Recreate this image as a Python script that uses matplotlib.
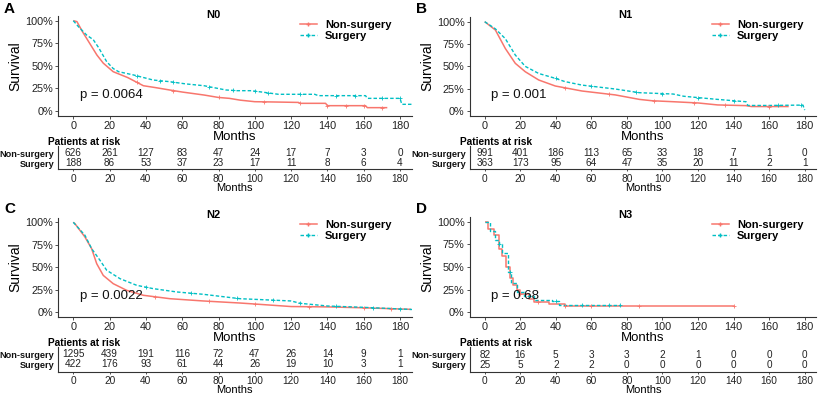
import numpy as np
import matplotlib
matplotlib.use("Agg")
import matplotlib.pyplot as plt
from matplotlib.lines import Line2D

plt.rcParams['font.family'] = ['Liberation Sans', 'DejaVu Sans']

W, H = 824, 396
RED = "#F8766D"
TEAL = "#00BFC4"

groups = ["Non-surgery", "Surgery"]
panel_titles = ["N0", "N1", "N2", "N3"]
panel_letters = ["A", "B", "C", "D"]
p_values = ["p = 0.0064", "p = 0.001", "p = 0.0022", "p = 0.68"]
risk_times = [0, 20, 40, 60, 80, 100, 120, 140, 160, 180]

# --- KM curves (time in months, survival proportion) ---
n0_non_t = [0, 2, 5, 9, 13, 16.5, 22, 30, 38.6, 45, 53, 60, 72, 80, 86, 92, 100, 110, 124, 125, 139, 140, 161, 162, 173]
n0_non_s = [1.0, 0.99, 0.88, 0.75, 0.62, 0.53, 0.435, 0.37, 0.28, 0.26, 0.233, 0.21, 0.177, 0.15, 0.14, 0.12, 0.103, 0.10, 0.095, 0.085, 0.085, 0.059, 0.059, 0.037, 0.037]
n0_sur_t = [0, 3, 7.4, 11, 14, 18.4, 22, 25, 33, 44, 53, 62, 72, 84, 90, 98, 105, 113, 133, 135, 161, 162, 180, 181, 188]
n0_sur_s = [1.0, 0.93, 0.84, 0.79, 0.70, 0.546, 0.47, 0.435, 0.40, 0.343, 0.325, 0.30, 0.28, 0.233, 0.225, 0.225, 0.207, 0.185, 0.185, 0.17, 0.17, 0.14, 0.14, 0.074, 0.074]

n1_non_t = [0, 1.3, 6, 11.6, 17.2, 22.8, 30.4, 39.7, 54.7, 73.5, 87, 94, 106, 120, 131, 147, 150, 171]
n1_non_s = [1.0, 0.98, 0.907, 0.70, 0.534, 0.44, 0.347, 0.28, 0.224, 0.18, 0.13, 0.115, 0.104, 0.09, 0.068, 0.06, 0.05, 0.05]
n1_sur_t = [0, 6, 11.6, 17.2, 22.8, 30.4, 39.7, 45, 54.7, 73.5, 87, 106, 112, 120, 131, 140, 147, 148, 160, 178, 179, 180]
n1_sur_s = [1.0, 0.92, 0.81, 0.627, 0.50, 0.42, 0.366, 0.33, 0.29, 0.246, 0.205, 0.19, 0.165, 0.15, 0.13, 0.115, 0.104, 0.062, 0.062, 0.066, 0.066, 0.01]

n2_non_t = [0, 0.9, 6.4, 10.1, 12.9, 16.5, 22, 29.4, 38.6, 53.3, 71.6, 91.9, 100, 120, 140, 160, 180, 186]
n2_non_s = [1.0, 0.985, 0.837, 0.707, 0.54, 0.41, 0.318, 0.244, 0.189, 0.151, 0.126, 0.103, 0.092, 0.064, 0.06, 0.05, 0.037, 0.033]
n2_sur_t = [0, 6.4, 10.1, 14.7, 18.4, 25.7, 34.9, 44, 57, 71.6, 91.9, 100, 120, 125, 140, 160, 180, 188]
n2_sur_s = [1.0, 0.856, 0.707, 0.578, 0.467, 0.374, 0.30, 0.263, 0.226, 0.20, 0.151, 0.144, 0.126, 0.10, 0.07, 0.055, 0.037, 0.03]

n3_non_t = [0, 2, 5, 8, 10, 12, 14, 16, 18, 20, 25, 28, 35, 36, 45, 140]
n3_non_s = [1.0, 0.92, 0.85, 0.70, 0.62, 0.50, 0.38, 0.30, 0.25, 0.20, 0.15, 0.11, 0.11, 0.09, 0.07, 0.07]
n3_sur_t = [0, 3, 6, 8, 10, 13, 15, 18, 22, 28, 38, 42, 76]
n3_sur_s = [1.0, 0.90, 0.80, 0.75, 0.65, 0.45, 0.32, 0.22, 0.18, 0.14, 0.12, 0.08, 0.08]

# censor times
n0_non_c = [35, 55, 80, 105, 125, 140, 150, 160, 170]
n0_sur_c = [35, 48, 55, 75, 88, 100, 107, 125, 145, 155, 170, 180]
n1_non_c = [45, 70, 95, 118, 135, 160]
n1_sur_c = [40, 60, 85, 100, 120, 140, 165, 178]
n2_non_c = [45, 75, 100, 130, 160, 175]
n2_sur_c = [40, 65, 90, 110, 125, 145, 165, 180]
n3_non_c = [20, 30, 45, 60, 87, 140]
n3_sur_c = [8, 14, 25, 40, 55, 70, 76]

# risk tables
n0_non_risk = [626, 261, 127, 83, 47, 24, 17, 7, 3, 0]
n0_sur_risk = [188, 86, 53, 37, 23, 17, 11, 8, 6, 4]
n1_non_risk = [991, 401, 186, 113, 65, 33, 18, 7, 1, 0]
n1_sur_risk = [363, 173, 95, 64, 47, 35, 20, 11, 2, 1]
n2_non_risk = [1295, 439, 191, 116, 72, 47, 26, 14, 9, 1]
n2_sur_risk = [422, 176, 93, 61, 44, 26, 19, 10, 3, 1]
n3_non_risk = [82, 16, 5, 3, 3, 2, 1, 0, 0, 0]
n3_sur_risk = [25, 5, 2, 2, 0, 0, 0, 0, 0, 0]

curves = [
    ((n0_non_t, n0_non_s, n0_non_c), (n0_sur_t, n0_sur_s, n0_sur_c)),
    ((n1_non_t, n1_non_s, n1_non_c), (n1_sur_t, n1_sur_s, n1_sur_c)),
    ((n2_non_t, n2_non_s, n2_non_c), (n2_sur_t, n2_sur_s, n2_sur_c)),
    ((n3_non_t, n3_non_s, n3_non_c), (n3_sur_t, n3_sur_s, n3_sur_c)),
]
risks = [(n0_non_risk, n0_sur_risk), (n1_non_risk, n1_sur_risk),
         (n2_non_risk, n2_sur_risk), (n3_non_risk, n3_sur_risk)]
stepped = [False, False, False, True]

fig = plt.figure(figsize=(W / 100, H / 100), dpi=100)
fig.patch.set_facecolor("white")


def add_ax(l, t, r, b):
    return fig.add_axes([l / W, 1 - b / H, (r - l) / W, (b - t) / H])


def curve_val(t, s, x, step):
    t = np.asarray(t, float)
    s = np.asarray(s, float)
    x = np.asarray(x, float)
    if step:
        idx = np.clip(np.searchsorted(t, x, side="right") - 1, 0, len(s) - 1)
        return s[idx]
    return np.interp(x, t, s)


XL = (-8.5, 186.5)
YL = (-0.055, 1.05)
SPINE = "#333333"

layouts = [
    dict(x0=73.3, x180=400.0, y100=20.7, y0=111.0, tt=146, tb=169.5, r1=153.3, r2=163.3, ox=0, oy=0),
    dict(x0=484.7, x180=804.7, y100=21.7, y0=111.0, tt=146, tb=169.5, r1=153.3, r2=163.3, ox=412, oy=0),
    dict(x0=73.3, x180=400.0, y100=222.3, y0=312.3, tt=347, tb=371.7, r1=354.0, r2=364.3, ox=0, oy=200),
    dict(x0=484.7, x180=804.7, y100=221.7, y0=312.3, tt=347, tb=371.7, r1=355.0, r2=365.0, ox=412, oy=200),
]

for i, L in enumerate(layouts):
    k = (L["x180"] - L["x0"]) / 180.0
    left = L["x0"] + XL[0] * k
    right = L["x0"] + XL[1] * k
    s = L["y0"] - L["y100"]
    top = L["y0"] - YL[1] * s
    bottom = L["y0"] - YL[0] * s
    ax = add_ax(left, top, right, bottom)
    ax.set_xlim(*XL)
    ax.set_ylim(*YL)
    for sp in ["top", "right"]:
        ax.spines[sp].set_visible(False)
    for sp in ["left", "bottom"]:
        ax.spines[sp].set_color(SPINE)
        ax.spines[sp].set_linewidth(0.8)
    ax.set_xticks(risk_times)
    ax.set_yticks([0, 0.25, 0.5, 0.75, 1.0])
    ax.set_yticklabels(["0%", "25%", "50%", "75%", "100%"])
    ax.tick_params(labelsize=7.8, length=2, width=0.6, colors=SPINE, labelcolor="#222222", pad=1.5)
    ax.set_xlabel("Months", fontsize=9.5, labelpad=0)
    ax.set_ylabel("Survival", fontsize=10, labelpad=2)

    (nt, ns, nc), (st, ss, sc) = curves[i]
    ds = "steps-post" if stepped[i] else "default"
    ax.plot(nt, ns, drawstyle=ds, color=RED, lw=1.1, solid_capstyle="butt")
    ax.plot(st, ss, drawstyle=ds, color=TEAL, lw=1.0, ls=(0, (2.5, 1.5)))
    ax.plot(nc, curve_val(nt, ns, nc, stepped[i]), ls="none", marker="+", ms=3, mew=0.6, color=RED)
    ax.plot(sc, curve_val(st, ss, sc, stepped[i]), ls="none", marker="+", ms=3, mew=0.6, color=TEAL)

    ax.text(3.5, 0.18, p_values[i], fontsize=9.5, ha="left", va="center", color="#111111")

    handles = [Line2D([], [], color=RED, lw=1.1, marker="+", ms=3.5),
               Line2D([], [], color=TEAL, lw=1.0, ls=(0, (2.5, 1.5)), marker="+", ms=3.5)]
    fig.legend(handles, groups, loc="upper left",
               bbox_to_anchor=((L["ox"] + 294) / W, 1 - (L["oy"] + 14) / H),
               frameon=False, prop=dict(size=8, weight="bold"),
               handlelength=1.6, handletextpad=0.7, labelspacing=0.1, borderpad=0)

    fig.text((L["ox"] + 213) / W, 1 - (L["oy"] + 15) / H, panel_titles[i],
             fontsize=8, fontweight="bold", ha="center", va="center")
    fig.text((L["ox"] + 4) / W, 1 - (L["oy"] + 9) / H, panel_letters[i],
             fontsize=11, fontweight="bold", ha="left", va="center")

    # risk table
    tax = add_ax(left, L["tt"], right, L["tb"])
    tax.set_xlim(*XL)
    tax.set_ylim(0, 1)
    for sp in ["top", "right"]:
        tax.spines[sp].set_visible(False)
    for sp in ["left", "bottom"]:
        tax.spines[sp].set_color(SPINE)
        tax.spines[sp].set_linewidth(0.8)
    hgt = L["tb"] - L["tt"]
    y1 = 1 - (L["r1"] - L["tt"]) / hgt
    y2 = 1 - (L["r2"] - L["tt"]) / hgt
    tax.set_yticks([y1, y2])
    tax.set_yticklabels(groups, fontweight="bold", fontsize=6.6)
    tax.set_xticks(risk_times)
    tax.tick_params(axis="x", labelsize=7.3, length=1.5, width=0.6, colors=SPINE, labelcolor="#222222", pad=1.5)
    tax.tick_params(axis="y", length=0, pad=2.5, labelcolor="#111111")
    tax.set_xlabel("Months", fontsize=8, labelpad=-0.5)
    nr, sr = risks[i]
    for t, v in zip(risk_times, nr):
        tax.text(t, y1, str(v), fontsize=7.2, ha="center", va="center", color="#222222")
    for t, v in zip(risk_times, sr):
        tax.text(t, y2, str(v), fontsize=7.2, ha="center", va="center", color="#222222")
    fig.text((left - 10) / W, 1 - (L["tt"] - 4) / H, "Patients at risk",
             fontsize=7.3, fontweight="bold", ha="left", va="center")

fig.savefig("out.png", dpi=100, facecolor="white")
